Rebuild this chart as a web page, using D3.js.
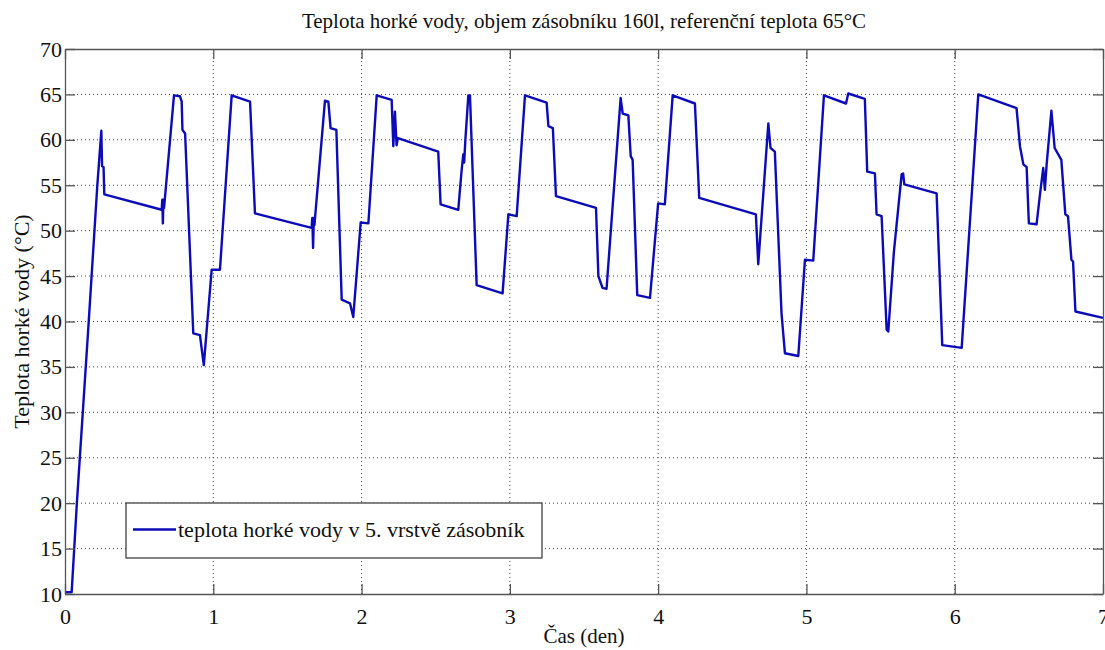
<!DOCTYPE html>
<html>
<head>
<meta charset="utf-8">
<script src="https://cdn.jsdelivr.net/npm/d3@7"></script>
<style>
body { margin: 0; background: #fff; }
text { font-family: "Liberation Serif", "Times New Roman", serif; }
</style>
</head>
<body>
<script>
// data: time (day) and hot water temperature (°C)
var days = [0, 0.045, 0.08, 0.12, 0.16, 0.218, 0.245, 0.25, 0.26, 0.265,
  0.652, 0.656, 0.66, 0.664, 0.668, 0.735, 0.775, 0.787, 0.792, 0.81,
  0.865, 0.91, 0.936, 0.989, 1.045, 1.124, 1.248, 1.281, 1.663, 1.668,
  1.673, 1.678, 1.682, 1.753, 1.776, 1.791, 1.83, 1.866, 1.922, 1.944,
  1.994, 2.046, 2.102, 2.203, 2.214, 2.225, 2.236, 2.245, 2.517, 2.533,
  2.652, 2.675, 2.686, 2.692, 2.70, 2.72, 2.731, 2.776, 2.951, 2.99,
  3.046, 3.102, 3.248, 3.26, 3.29, 3.311, 3.581, 3.597, 3.625, 3.652,
  3.747, 3.761, 3.799, 3.815, 3.828, 3.859, 3.945, 4.0, 4.045, 4.098,
  4.248, 4.277, 4.659, 4.675, 4.743, 4.758, 4.787, 4.832, 4.855, 4.945,
  4.99, 5.046, 5.118, 5.267, 5.282, 5.394, 5.41, 5.462, 5.473, 5.507,
  5.541, 5.552, 5.59, 5.642, 5.652, 5.66, 5.878, 5.916, 6.047, 6.159,
  6.417, 6.44, 6.463, 6.485, 6.5, 6.552, 6.575, 6.597, 6.608, 6.62,
  6.652, 6.674, 6.719, 6.746, 6.764, 6.787, 6.798, 6.814, 7.0];
var temps = [10.2, 10.2, 20, 30, 40, 55, 61, 57.1, 57, 54,
  52.3, 53.4, 50.8, 53.4, 52.5, 64.9, 64.8, 64.2, 61.1, 60.7,
  38.7, 38.5, 35.2, 45.7, 45.7, 64.9, 64.2, 51.9, 50.3, 51.4,
  48.1, 51.4, 50.6, 64.3, 64.2, 61.3, 61.1, 42.4, 42.0, 40.5,
  50.9, 50.8, 64.9, 64.4, 59.3, 63.1, 59.4, 60.2, 58.7, 52.9,
  52.3, 56.7, 58.4, 57.5, 60, 64.9, 64.9, 44.0, 43.1, 51.8,
  51.6, 64.9, 64.1, 61.5, 61.3, 53.8, 52.5, 45.0, 43.7, 43.6,
  64.6, 62.9, 62.7, 58.2, 57.8, 42.9, 42.6, 53.0, 52.9, 64.9,
  64.0, 53.6, 51.8, 46.3, 61.8, 59.1, 58.7, 40.9, 36.5, 36.2,
  46.8, 46.7, 64.9, 64.0, 65.1, 64.5, 56.5, 56.3, 51.8, 51.6,
  39.1, 38.9, 47.7, 56.2, 56.3, 55.1, 54.1, 37.4, 37.1, 65.0,
  63.5, 59.3, 57.3, 57.0, 50.8, 50.7, 54.0, 56.9, 54.5, 57.3,
  63.2, 59.1, 57.8, 51.8, 51.6, 46.8, 46.6, 41.1, 40.4];
var xTicks = [0, 1, 2, 3, 4, 5, 6, 7];
var yTicks = [10, 15, 20, 25, 30, 35, 40, 45, 50, 55, 60, 65, 70];
var seriesName = "teplota horké vody v 5. vrstvě zásobník";

var width = 1105, height = 650;
var margin = {top: 49, right: 2, bottom: 56, left: 65};
var w = width - margin.left - margin.right,
  h = height - margin.top - margin.bottom;
var serif = "Liberation Serif";

var svg = d3.select("body").append("svg")
  .attr("width", width)
  .attr("height", height);
var g = svg.append("g").attr("transform", "translate(" + margin.left + "," + margin.top + ")");

var x = d3.scaleLinear().domain([0, 7]).range([0, w]);
var y = d3.scaleLinear().domain([10, 70]).range([h, 0]);

// dotted grid
g.append("g").selectAll("line").data(xTicks.slice(1, -1)).enter().append("line")
  .attr("x1", function(d) { return x(d); }).attr("x2", function(d) { return x(d); })
  .attr("y1", 0).attr("y2", h)
  .attr("stroke", "#444").attr("stroke-width", 1).attr("stroke-dasharray", "1,3");
g.append("g").selectAll("line").data(yTicks.slice(1, -1)).enter().append("line")
  .attr("y1", function(d) { return y(d); }).attr("y2", function(d) { return y(d); })
  .attr("x1", 0).attr("x2", w)
  .attr("stroke", "#444").attr("stroke-width", 1).attr("stroke-dasharray", "1,3");

// data line
var line = d3.line()
  .x(function(d, i) { return x(days[i]); })
  .y(function(d, i) { return y(temps[i]); });
g.append("path")
  .datum(days)
  .attr("d", line)
  .attr("fill", "none")
  .attr("stroke", "#0b0bb8")
  .attr("stroke-width", 2.4)
  .attr("stroke-linejoin", "round");

// axes, ticks pointing inside like matlab
function styleAxis(sel) {
  sel.attr("font-family", serif);
  sel.select(".domain").attr("stroke", "#555").attr("stroke-width", 1.3);
  sel.selectAll(".tick line").attr("stroke", "#555").attr("stroke-width", 1.3);
  sel.selectAll(".tick text").attr("fill", "#111")
    .attr("font-family", serif).attr("font-size", 22);
}
g.append("g").attr("transform", "translate(0," + h + ")")
  .call(d3.axisBottom(x).tickValues(xTicks).tickFormat(d3.format("d"))
    .tickSizeInner(-10).tickSizeOuter(0).tickPadding(14))
  .call(styleAxis);
g.append("g")
  .call(d3.axisLeft(y).tickValues(yTicks).tickFormat(d3.format("d"))
    .tickSizeInner(-10).tickSizeOuter(0).tickPadding(3))
  .call(styleAxis);
g.append("g")
  .call(d3.axisTop(x).tickValues(xTicks).tickFormat("")
    .tickSizeInner(-10).tickSizeOuter(0))
  .call(styleAxis);
g.append("g").attr("transform", "translate(" + w + ",0)")
  .call(d3.axisRight(y).tickValues(yTicks).tickFormat("")
    .tickSizeInner(-10).tickSizeOuter(0))
  .call(styleAxis);

// title and labels
svg.append("text")
  .attr("x", margin.left + w / 2).attr("y", 28)
  .attr("text-anchor", "middle")
  .attr("font-family", serif).attr("font-size", 21).attr("fill", "#111")
  .text("Teplota horké vody, objem zásobníku 160l, referenční teplota 65°C");
svg.append("text")
  .attr("x", margin.left + w / 2).attr("y", 643)
  .attr("text-anchor", "middle")
  .attr("font-family", serif).attr("font-size", 21).attr("fill", "#111")
  .text("Čas (den)");
svg.append("text")
  .attr("transform", "translate(29," + (margin.top + h / 2) + ") rotate(-90)")
  .attr("text-anchor", "middle")
  .attr("font-family", serif).attr("font-size", 22).attr("fill", "#111")
  .text("Teplota horké vody (°C)");

// legend
var leg = svg.append("g").attr("transform", "translate(126,503)");
leg.append("rect")
  .attr("width", 416).attr("height", 55)
  .attr("fill", "#fff").attr("stroke", "#333").attr("stroke-width", 1.2);
leg.append("line")
  .attr("x1", 7).attr("x2", 50).attr("y1", 26.5).attr("y2", 26.5)
  .attr("stroke", "#0b0bb8").attr("stroke-width", 2.4);
leg.append("text")
  .attr("x", 52).attr("y", 34)
  .attr("font-family", serif).attr("font-size", 22).attr("fill", "#111")
  .text(seriesName);
</script>
</body>
</html>
